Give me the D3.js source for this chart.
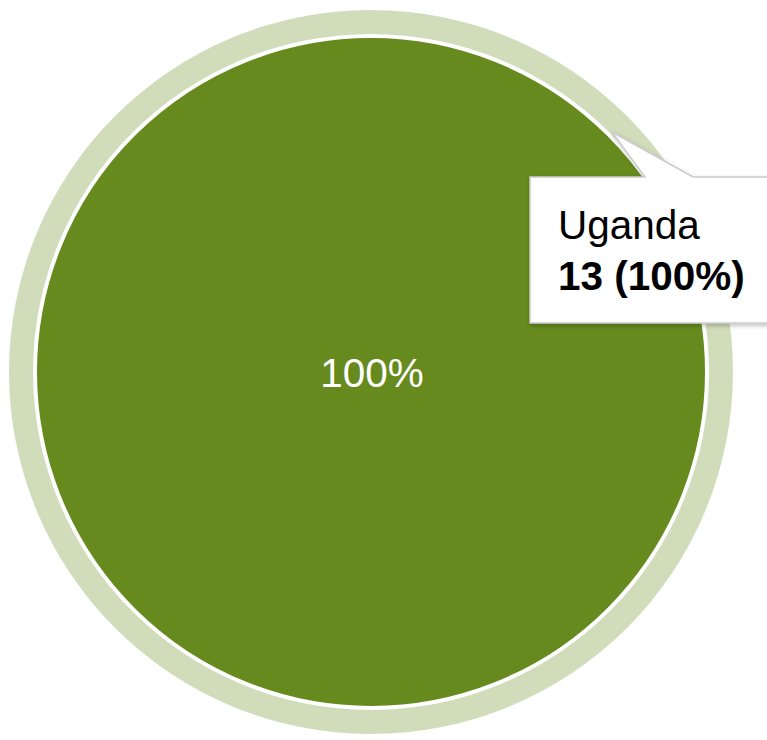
<!DOCTYPE html>
<html>
<head>
<meta charset="utf-8">
<script src="https://d3js.org/d3.v7.min.js"></script>
<style>
    body { margin: 0; background: #fff; }
    svg { display: block; font-family: Arial, "Liberation Sans", sans-serif; }
</style>
</head>
<body>
<div id="pie"></div>
<script>
// data
const countries = ["Uganda"];
const counts = [13];
const sliceColors = ["#668a1e"];

/**
 * Single series pie with a hover ring and a tooltip box.
 */
class PieChart {
    constructor() {
        this.width = 767;
        this.height = 740;
        this.cx = 371;
        this.cy = 372;
        this.radius = 335;

        this.svg = d3.select("#pie").append("svg")
            .attr("width", this.width)
            .attr("height", this.height)
        ;

        let defs = this.svg.append("defs");
        defs.append("filter")
            .attr("id", "tipShadow")
            .attr("x", "-20%").attr("y", "-20%")
            .attr("width", "140%").attr("height", "140%")
            .append("feDropShadow")
            .attr("dx", 1).attr("dy", 2)
            .attr("stdDeviation", 2)
            .attr("flood-color", "#000")
            .attr("flood-opacity", 0.25)
        ;

        this.color = d3.scaleOrdinal().domain(countries).range(sliceColors);
    }

    update() {
        let rows = countries.map((c, i) => ({ name: c, value: counts[i] }));
        let total = d3.sum(rows, d => d.value);

        let pie = d3.pie().sort(null).value(d => d.value);
        let arcs = pie(rows);

        let arc = d3.arc().innerRadius(0).outerRadius(this.radius);
        // hover ring round the slice
        let ring = d3.arc().innerRadius(this.radius + 3).outerRadius(this.radius + 27);

        let g = this.svg.append("g")
            .attr("transform", `translate(${this.cx}, ${this.cy})`);

        g.selectAll(".ring")
            .data(arcs)
            .enter()
            .append("path")
            .attr("class", "ring")
            .attr("d", ring)
            .style("fill", d => this.color(d.data.name))
            .style("fill-opacity", 0.3)
        ;

        g.selectAll(".slice")
            .data(arcs)
            .enter()
            .append("path")
            .attr("class", "slice")
            .attr("d", arc)
            .style("fill", d => this.color(d.data.name))
            .style("stroke", "#fff")
            .style("stroke-width", 2)
        ;

        let fmt = d3.format(".0%");
        g.selectAll(".label")
            .data(arcs)
            .enter()
            .append("text")
            .attr("class", "label")
            .attr("transform", d => arcs.length === 1 ? "translate(1,0)" : `translate(${arc.centroid(d)})`)
            .attr("dy", "0.36em")
            .style("text-anchor", "middle")
            .style("font-size", "40.5px")
            .style("fill", "#fff")
            .text(d => fmt(d.value / total))
        ;

        this.tooltip(rows[0], total);
    }

    tooltip(d, total) {
        // box with a tail pointing up-left
        let x0 = 530, y0 = 177, x1 = 800, y1 = 323;
        let tip = [612, 132], t0 = 645, t1 = 693;
        let p = d3.path();
        p.moveTo(x0, y0);
        p.lineTo(t0, y0);
        p.lineTo(tip[0], tip[1]);
        p.lineTo(t1, y0);
        p.lineTo(x1, y0);
        p.lineTo(x1, y1);
        p.lineTo(x0, y1);
        p.closePath();

        let tg = this.svg.append("g");
        tg.append("path")
            .attr("d", p.toString())
            .style("fill", "#fff")
            .style("stroke", "#ccc")
            .style("stroke-width", 1.5)
            .attr("filter", "url(#tipShadow)")
        ;

        tg.append("text")
            .attr("x", 558)
            .attr("y", 239)
            .style("font-size", "40.5px")
            .style("fill", "#000")
            .text(d.name)
        ;

        tg.append("text")
            .attr("x", 558)
            .attr("y", 290)
            .style("font-size", "40.5px")
            .style("font-weight", "bold")
            .style("fill", "#000")
            .text(`${d.value} (${d3.format(".0%")(d.value / total)})`)
        ;
    }
}

let chart = new PieChart();
chart.update();
</script>
</body>
</html>
